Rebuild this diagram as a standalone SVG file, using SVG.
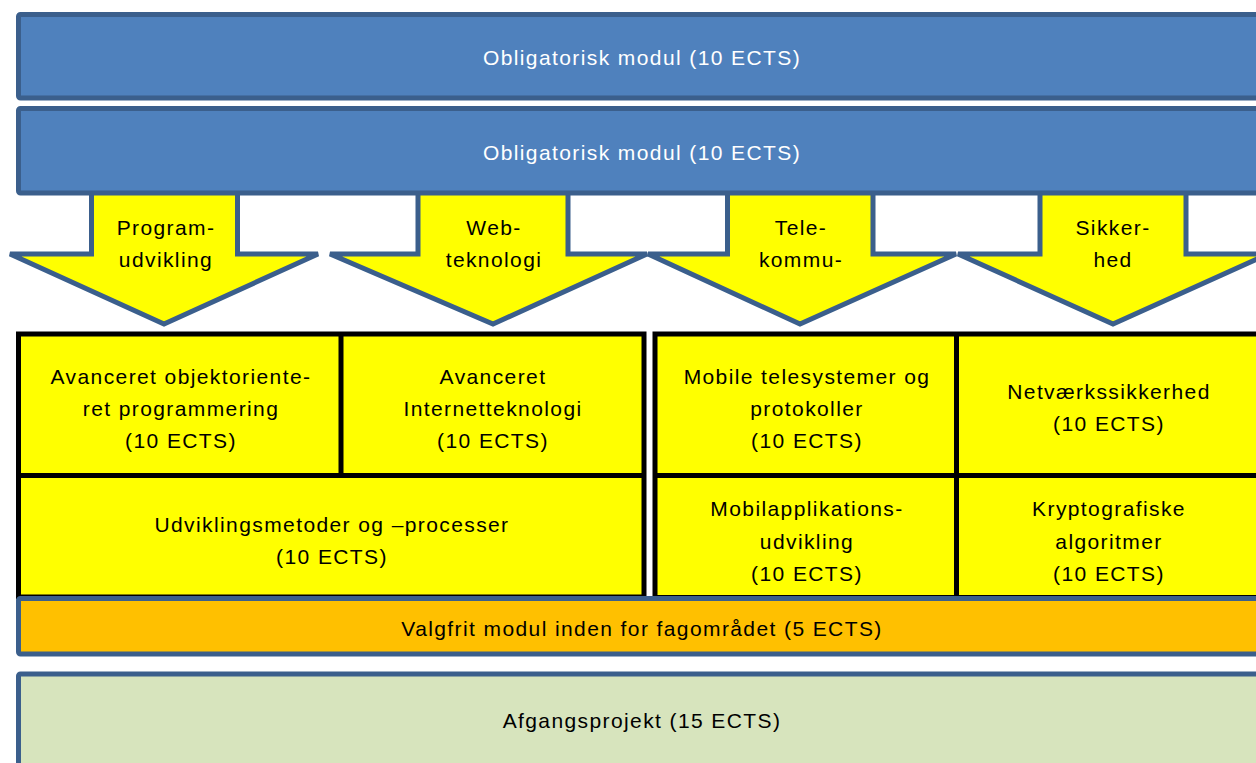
<svg xmlns="http://www.w3.org/2000/svg" width="1256" height="763" viewBox="0 0 1256 763">
<style>
.blue{fill:#4f81bd;stroke:#3b5f8c;stroke-width:5}
.arrow{fill:#ffff00;stroke:#3b5f8c;stroke-width:5;stroke-linejoin:miter}
.cell{fill:#ffff00;stroke:#000;stroke-width:5}
.div{stroke:#000;stroke-width:5;fill:none}
.orange{fill:#ffc000;stroke:#3b5f8c;stroke-width:5}
.green{fill:#d7e4bd;stroke:#3b5f8c;stroke-width:5}
text{font-family:"Liberation Sans",Arial,sans-serif;font-size:21px;letter-spacing:1.4px;text-anchor:middle;fill:#000}
.w{fill:#fff}
</style>
<g id="connectors">
<path id="arrow-program" class="arrow" d="M91.5,190 H237.5 V254 H318 L164,324 L10,254 H91.5 Z"/>
<path id="arrow-web" class="arrow" d="M418,190 H568 V254 H647 L493,324 L330,254 H418 Z"/>
<path id="arrow-tele" class="arrow" d="M727.5,190 H873 V254 H956 L800,324 L648,254 H727.5 Z"/>
<path id="arrow-sikker" class="arrow" d="M1040,190 H1186 V254 H1268 L1113,324 L958,254 H1040 Z"/>
</g>
<g id="oblig1">
<rect class="blue" x="18.5" y="14.5" width="1250" height="83.5" rx="2"/>
<text class="w" x="642" y="65">Obligatorisk modul (10 ECTS)</text>
</g>
<g id="oblig2">
<rect class="blue" x="18.5" y="108.5" width="1250" height="84.5" rx="2"/>
<text class="w" x="642" y="160">Obligatorisk modul (10 ECTS)</text>
</g>
<g id="arrow-labels">
<text x="166" y="235">Program-</text>
<text x="166" y="267">udvikling</text>
<text x="494" y="235">Web-</text>
<text x="494" y="267">teknologi</text>
<text x="801" y="235">Tele-</text>
<text x="801" y="267">kommu-</text>
<text x="1113" y="235">Sikker-</text>
<text x="1113" y="267">hed</text>
</g>
<g id="left-group">
<rect class="cell" x="18.5" y="334" width="625.5" height="263"/>
<path class="div" d="M341,334 V475.5 M18.5,475.5 H644"/>
</g>
<g id="avanceret-oop">
<text x="181" y="384">Avanceret objektoriente-</text>
<text x="181" y="416">ret programmering</text>
<text x="181" y="448">(10 ECTS)</text>
</g>
<g id="avanceret-internet">
<text x="493" y="384">Avanceret</text>
<text x="493" y="416">Internetteknologi</text>
<text x="493" y="448">(10 ECTS)</text>
</g>
<g id="udviklingsmetoder">
<text x="332" y="532">Udviklingsmetoder og –processer</text>
<text x="332" y="564">(10 ECTS)</text>
</g>
<g id="right-group">
<rect class="cell" x="655" y="334" width="610" height="263.5"/>
<path class="div" d="M956.5,334 V597.5 M655,475.5 H1265"/>
</g>
<g id="mobile-tele">
<text x="807" y="384">Mobile telesystemer og</text>
<text x="807" y="416">protokoller</text>
<text x="807" y="448">(10 ECTS)</text>
</g>
<g id="netvaerk">
<text x="1109" y="399">Netværkssikkerhed</text>
<text x="1109" y="431">(10 ECTS)</text>
</g>
<g id="mobilapp">
<text x="807" y="516">Mobilapplikations-</text>
<text x="807" y="549">udvikling</text>
<text x="807" y="581">(10 ECTS)</text>
</g>
<g id="krypto">
<text x="1109" y="516">Kryptografiske</text>
<text x="1109" y="549">algoritmer</text>
<text x="1109" y="581">(10 ECTS)</text>
</g>
<g id="valgfrit">
<rect class="orange" x="18.5" y="598.5" width="1250" height="55.5" rx="2"/>
<text x="642" y="636">Valgfrit modul inden for fagområdet (5 ECTS)</text>
</g>
<g id="afgang">
<rect class="green" x="18.5" y="674" width="1250" height="120" rx="2"/>
<text x="642" y="728">Afgangsprojekt (15 ECTS)</text>
</g>
</svg>
